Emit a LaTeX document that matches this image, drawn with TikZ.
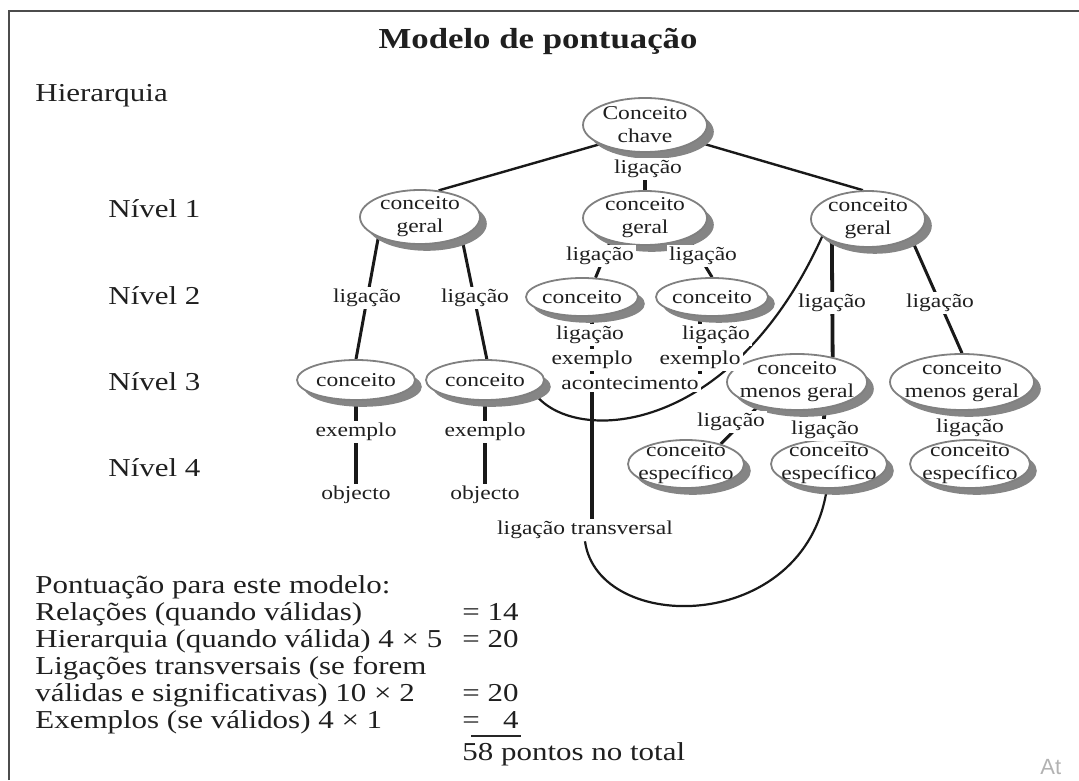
\documentclass[tikz,border=0pt]{standalone}
\usepackage{fontspec}
\setmainfont{Liberation Serif}
\newfontfamily\tmw[FakeStretch=1.2]{Liberation Serif}
\newfontfamily\sansw{Liberation Sans}
\usetikzlibrary{shapes.geometric,shadows,backgrounds}
\begin{document}
\begin{tikzpicture}[x=0.5pt,y=-0.5pt,
  every node/.style={text=black!88},
  conc/.style={ellipse, draw=black!50, line width=0.9pt, fill=white, inner sep=0pt,
     drop shadow={shadow xshift=3.4pt, shadow yshift=-3.4pt, fill=black!48, opacity=1}},
  ctext/.style={inner sep=0pt, align=center, font=\tmw\fontsize{9.8}{11.5}\selectfont},
  lbl/.style={fill=white, inner sep=1pt, font=\tmw\fontsize{9.8}{11.5}\selectfont},
  body/.style={inner sep=0pt, anchor=base west, font=\tmw\fontsize{12.9}{13}\selectfont},
  lnk/.style={line width=1.2pt, black!90},
  lnkm/.style={line width=1.5pt, black!90},
  lnkt/.style={line width=1.9pt, black!90},
  cross/.style={line width=1.1pt, black!90}]
\useasboundingbox (0,0) rectangle (1079,780);
% frame
\draw[line width=1.2pt, black!70] (9,780) -- (9,11) -- (1079,11);
% title and level texts
\node[font=\tmw\bfseries\fontsize{14.5}{15}\selectfont, anchor=base, inner sep=0pt] (title) at (538,49) {Modelo de pontuação};
\node[body] (hier) at (35,102) {Hierarquia};
\node[body] (niv1) at (108,218) {Nível 1};
\node[body] (niv2) at (108,304) {Nível 2};
\node[body] (niv3) at (108,390) {Nível 3};
\node[body] (niv4) at (108,476) {Nível 4};
% concepts
\node[conc, minimum width=62pt, minimum height=27pt] (key) at (645,125) {};
\node[ctext] (key-t) at (key) {Conceito\\chave};
\node[conc, minimum width=60pt, minimum height=27pt] (n1a) at (420,217) {};
\node[ctext] (n1a-t) at (n1a) {conceito\\geral};
\node[conc, minimum width=62pt, minimum height=27pt] (n1b) at (645,218) {};
\node[ctext] (n1b-t) at (n1b) {conceito\\geral};
\node[conc, minimum width=57pt, minimum height=28pt] (n1c) at (868,219) {};
\node[ctext] (n1c-t) at (n1c) {conceito\\geral};
\node[conc, minimum width=56pt, minimum height=19pt] (n2a) at (582,297) {};
\node[ctext] (n2a-t) at (n2a) {conceito};
\node[conc, minimum width=56pt, minimum height=19pt] (n2b) at (712,297) {};
\node[ctext] (n2b-t) at (n2b) {conceito};
\node[conc, minimum width=59pt, minimum height=20pt] (n3a) at (356,380) {};
\node[ctext] (n3a-t) at (n3a) {conceito};
\node[conc, minimum width=59pt, minimum height=20pt] (n3b) at (485,380) {};
\node[ctext] (n3b-t) at (n3b) {conceito};
\node[conc, minimum width=70pt, minimum height=28pt] (n3c) at (797,382) {};
\node[ctext] (n3c-t) at (n3c) {conceito\\menos geral};
\node[conc, minimum width=72pt, minimum height=28pt] (n3d) at (962,382) {};
\node[ctext] (n3d-t) at (n3d) {conceito\\menos geral};
\node[conc, minimum width=58pt, minimum height=24pt] (n4a) at (686,464) {};
\node[ctext] (n4a-t) at (n4a) {conceito\\específico};
\node[conc, minimum width=58pt, minimum height=24pt] (n4b) at (829,464) {};
\node[ctext] (n4b-t) at (n4b) {conceito\\específico};
\node[conc, minimum width=60pt, minimum height=24pt] (n4c) at (970,464) {};
\node[ctext] (n4c-t) at (n4c) {conceito\\específico};
% labels
\node[lbl] (lk) at (648,169) {ligação};
\node[lbl] (lba) at (600,256) {ligação};
\node[lbl] (lbb) at (703,256) {ligação};
\node[lbl] (laa) at (367,298) {ligação};
\node[lbl] (lab) at (475,298) {ligação};
\node[lbl] (lca) at (832,303) {ligação};
\node[lbl] (lcd) at (940,303) {ligação};
\node[lbl] (l2a) at (590,335) {ligação};
\node[lbl] (l2b) at (716,335) {ligação};
\node[lbl] (ex2a) at (592,360) {exemplo};
\node[lbl] (ex2b) at (700,360) {exemplo};
\node[lbl] (acont) at (630,383) {acontecimento};
\node[lbl] (ex3a) at (356,432) {exemplo};
\node[lbl] (ex3b) at (485,432) {exemplo};
\node[lbl] (obj1) at (356,495) {objecto};
\node[lbl] (obj2) at (485,495) {objecto};
\node[lbl] (l4a) at (731,422) {ligação};
\node[lbl] (l4b) at (825,430) {ligação};
\node[lbl] (l4c) at (970,428) {ligação};
\node[lbl] (lt) at (585,530) {ligação transversal};
% connectors
\begin{pgfonlayer}{background}
\draw[lnk] (key.203) -- (n1a.55);
\draw[lnkt] (key) -- (n1b);
\draw[lnk] (key.342) -- (n1c.100);
\draw[lnkm] (n1b.214) -- (n2a.55);
\draw[lnkm] (n1b.335) -- (n2b.north);
\draw[lnkm] (n1a.206) -- (n3a.north);
\draw[lnkm] (n1a.334) -- (n3b.85);
\draw[lnkt] (n1c.212) -- (n3c.35);
\draw[lnkm] (n1c.336) -- (n3d.north);
\draw[lnkt] (n3a) -- (obj1);
\draw[lnkt] (n3b) -- (obj2);
\draw[lnkt] (n2a.south -| ex2a) -- (lt.north -| ex2a);
\draw[lnkt] (n2b.south -| ex2b) -- (acont.north -| ex2b);
\draw[lnkm] (n3c.212) -- (n4a.30);
\draw[lnkt] (n3c.316) -- (n4b.104);
\draw[lnkt] (n3d.south -| n4c.north) -- (n4c.north);
\draw[cross] (n3b.346) .. controls (570,445) and (730,440) .. (n1c.201);
\draw[cross] (lt.south) .. controls (598,635) and (805,635) .. (n4b.265);
\end{pgfonlayer}
% scoring
\node[body] (s1) at (35,593) {Pontuação para este modelo:};
\node[body] (s2) at (35,620) {Relações (quando válidas)};
\node[body] (s2r) at (462,620) {= 14};
\node[body] (s3) at (35,647) {Hierarquia (quando válida) 4 × 5};
\node[body] (s3r) at (462,647) {= 20};
\node[body] (s4) at (35,674) {Ligações transversais (se forem};
\node[body] (s5) at (35,701) {válidas e significativas) 10 × 2};
\node[body] (s5r) at (462,701) {= 20};
\node[body] (s6) at (35,728) {Exemplos (se válidos) 4 × 1};
\node[body] (s6r) at (462,728) {= \phantom{1}4};
\draw[line width=0.7pt, black!85] (s6r.base west) ++(9,8) -- ++(50,0);
\node[body] (tot) at (462,760) {58 pontos no total};
\node[font=\sansw\fontsize{11}{11}\selectfont, text=black!30, anchor=base west, inner sep=0pt] (wm) at (1040,774) {At};
\end{tikzpicture}
\end{document}
